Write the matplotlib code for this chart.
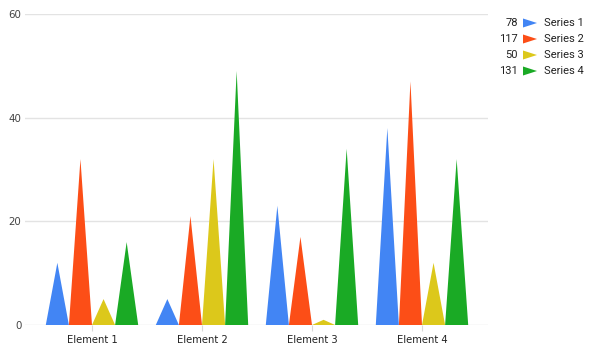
import numpy as np
import matplotlib.pyplot as plt
from matplotlib.patches import Polygon

categories = ["Element 1", "Element 2", "Element 3", "Element 4"]
series_names = ["Series 1", "Series 2", "Series 3", "Series 4"]
series_values = [
    [12, 5, 23, 38],
    [32, 21, 17, 47],
    [5, 32, 1, 12],
    [16, 49, 34, 32],
]
colors = ["#4285f4", "#fc4e17", "#dcc81b", "#1aaa25"]
yticks = [0, 20, 40, 60]

W, H = 592, 351
fig = plt.figure(figsize=(W / 100, H / 100), dpi=100)
# axes from pixel 25..488 horizontally, 14..325 vertically
ax = fig.add_axes([25 / W, 1 - 325 / H, (488 - 25) / W, (325 - 14) / H])

tri_w = 0.21
n = len(series_values)
for s, vals in enumerate(series_values):
    off = (s - (n - 1) / 2) * tri_w
    for i, v in enumerate(vals):
        cx = i + off
        ax.add_patch(Polygon([(cx - tri_w / 2, 0), (cx, v), (cx + tri_w / 2, 0)],
                             closed=True, facecolor=colors[s], edgecolor="none", zorder=3))

ax.set_xlim((25 - 92) / 110, (488 - 92) / 110)
ax.set_ylim(0, 60)
ax.set_yticks(yticks)
ax.set_xticks(range(len(categories)))
ax.set_xticklabels(categories)
ax.grid(axis="y", color="#e3e3e3", linewidth=1)
ax.set_axisbelow(True)
for sp in ax.spines.values():
    sp.set_visible(False)
ax.tick_params(axis="y", length=0, pad=2.5, labelsize=7.4, labelcolor="#444444")
ax.tick_params(axis="x", length=4, color="#d8d8d8", pad=3, labelsize=7.2, labelcolor="#222222")

# legend with totals
lf = dict(fontsize=8, color="#222222", family=["Roboto", "DejaVu Sans"])
for k, name in enumerate(series_names):
    y = 1 - (23 + 16 * k) / H
    fig.text(518 / W, y, str(sum(series_values[k])), ha="right", va="center", **lf)
    x0 = 523 / W
    tw, th = 14 / W, 9 / H
    fig.patches.append(Polygon([(x0, y + th / 2), (x0 + tw, y), (x0, y - th / 2)],
                               closed=True, transform=fig.transFigure,
                               facecolor=colors[k], edgecolor="none"))
    fig.text(544 / W, y, name, ha="left", va="center", **lf)

fig.savefig("out.png", dpi=100)
